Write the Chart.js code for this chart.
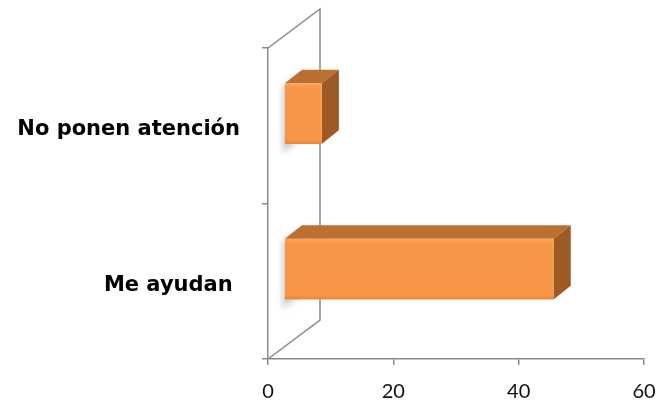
<!DOCTYPE html>
<html>
<head>
<meta charset="utf-8">
<script src="https://cdn.jsdelivr.net/npm/chart.js@4"></script>
<style>
  body { margin: 0; background: #fff; }
  #wrap { width: 659px; height: 406px; }
</style>
</head>
<body>
<div id="wrap"><canvas id="chart" width="659" height="406"></canvas></div>
<script>
'use strict';

// data
let categories = ['No ponen atención', 'Me ayudan '];
let answers = [6, 43];
let xTicks = [0, 20, 40, 60];

// 3d look
let depthX = 52;
let depthY = -39;
let frontColor = '#F79646';
let topColor = '#BB6F31';
let sideColor = '#9E5A24';
let axisColor = '#8a8a8a';

let canvasElem = document.getElementById('chart');

// draws the back wall + the boxes on top of the (transparent) bars
let box3d = {
  id: 'box3d',
  beforeDatasetsDraw(chart) {
    let ctx = chart.ctx;
    let a = chart.chartArea;
    ctx.save();
    ctx.strokeStyle = axisColor;
    ctx.lineWidth = 1.5;
    ctx.beginPath();
    ctx.moveTo(a.left, a.top);
    ctx.lineTo(a.left + depthX, a.top + depthY);
    ctx.lineTo(a.left + depthX, a.bottom + depthY);
    ctx.lineTo(a.left, a.bottom);
    ctx.stroke();
    ctx.restore();
  },
  afterDatasetsDraw(chart) {
    let ctx = chart.ctx;
    let meta = chart.getDatasetMeta(0);
    let fx = 0.31 * depthX, fy = 0.31 * depthY;
    let bx = 0.33 * depthX, by = 0.35 * depthY;
    meta.data.forEach(function (bar) {
      let p = bar.getProps(['x', 'y', 'base', 'height'], true);
      let left = p.base + fx;
      let right = p.x + fx;
      let top = p.y - p.height / 2 + fy;
      let bottom = p.y + p.height / 2 + fy;

      ctx.save();
      // soft shadow on the side wall
      ctx.filter = 'blur(3px)';
      ctx.fillStyle = '#c8c8c8';
      ctx.beginPath();
      ctx.moveTo(left - 2, top + 4);
      ctx.lineTo(left + bx - 2, top + by + 4);
      ctx.lineTo(left + bx - 2, bottom + by + 9);
      ctx.lineTo(left - 2, bottom + 9);
      ctx.closePath();
      ctx.fill();
      ctx.filter = 'none';

      // top face
      ctx.fillStyle = topColor;
      ctx.beginPath();
      ctx.moveTo(left, top);
      ctx.lineTo(left + bx, top + by);
      ctx.lineTo(right + bx, top + by);
      ctx.lineTo(right, top);
      ctx.closePath();
      ctx.fill();

      // side face
      ctx.fillStyle = sideColor;
      ctx.beginPath();
      ctx.moveTo(right, top);
      ctx.lineTo(right + bx, top + by);
      ctx.lineTo(right + bx, bottom + by);
      ctx.lineTo(right, bottom);
      ctx.closePath();
      ctx.fill();

      // front face
      let grad = ctx.createLinearGradient(0, top, 0, bottom);
      grad.addColorStop(0, '#FBA45E');
      grad.addColorStop(0.08, frontColor);
      grad.addColorStop(0.92, frontColor);
      grad.addColorStop(1, '#E5853A');
      ctx.fillStyle = grad;
      ctx.fillRect(left, top, right - left, bottom - top);
      ctx.restore();
    });
  }
};

let chartObj = {
  type: 'bar',
  data: {
    labels: categories,
    datasets: [{
      data: answers,
      backgroundColor: 'rgba(0,0,0,0)',
      borderWidth: 0,
      categoryPercentage: 1,
      barPercentage: 0.39
    }]
  },
  options: {
    indexAxis: 'y',
    responsive: false,
    animation: false,
    layout: { padding: { top: 48, right: 15, left: 0, bottom: 0 } },
    plugins: {
      legend: { display: false },
      tooltip: { enabled: false }
    },
    scales: {
      x: {
        min: 0,
        max: 60,
        afterBuildTicks: function (scale) {
          scale.ticks = xTicks.map(function (v) { return { value: v }; });
        },
        afterFit: function (scale) {
          scale.height = 47;
          scale.paddingRight = 0;
          scale.paddingLeft = 0;
        },
        grid: { drawOnChartArea: false, drawTicks: true, tickLength: 6, color: axisColor, lineWidth: 1.5 },
        border: { color: axisColor, width: 1.5 },
        ticks: { color: '#111', padding: 15, font: { family: 'Lato, "Open Sans", sans-serif', size: 20 } }
      },
      y: {
        afterFit: function (scale) { scale.width = 268; },
        grid: { drawOnChartArea: false, drawTicks: true, tickLength: 6, color: axisColor, lineWidth: 1.5, offset: true },
        border: { color: axisColor, width: 1.5 },
        ticks: { color: '#000', padding: 22, labelOffset: 4, font: { family: '"Comic Sans MS", "DejaVu Sans", sans-serif', size: 21, weight: 'bold' } }
      }
    }
  },
  plugins: [box3d]
};

new Chart(canvasElem, chartObj);
</script>
</body>
</html>
